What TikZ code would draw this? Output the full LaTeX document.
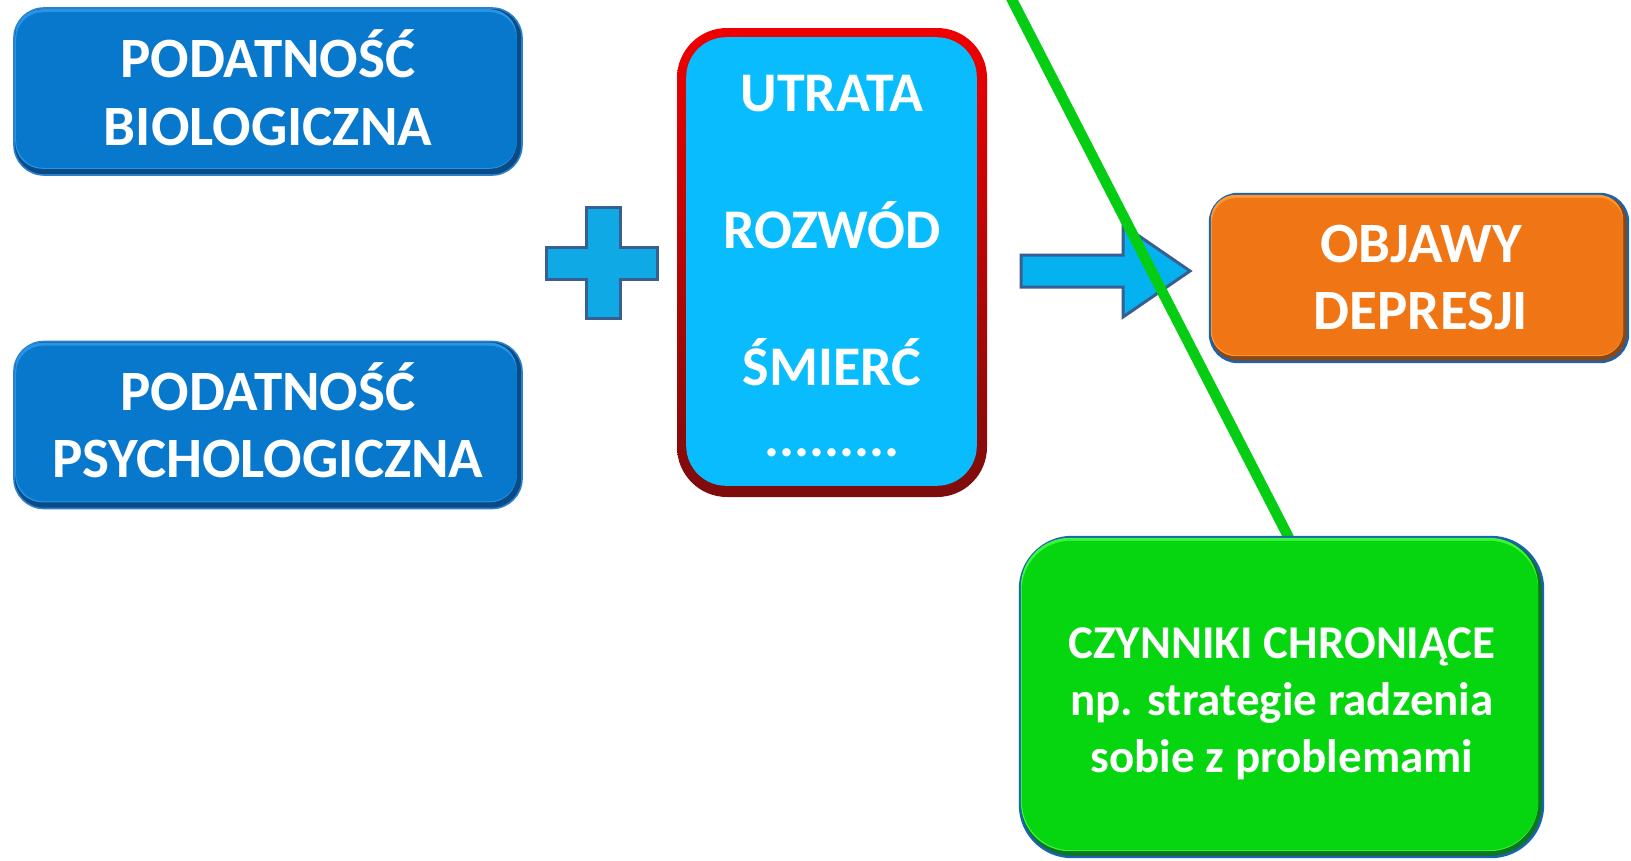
\documentclass[tikz,border=0pt]{standalone}
\usepackage{fontspec}
\setmainfont{Carlito}
\definecolor{bluemain}{RGB}{8,120,205}
\definecolor{bluelight}{RGB}{40,148,228}
\definecolor{blueedge}{RGB}{10,74,133}
\definecolor{blueline}{RGB}{42,128,204}
\definecolor{cyanfill}{RGB}{8,188,253}
\definecolor{redtop}{RGB}{240,0,0}
\definecolor{redbot}{RGB}{125,12,12}
\definecolor{plusfill}{RGB}{15,170,230}
\definecolor{shapeline}{RGB}{55,95,145}
\definecolor{arrowfill}{RGB}{5,178,240}
\definecolor{orangemain}{RGB}{240,117,20}
\definecolor{orangelight}{RGB}{255,150,50}
\definecolor{orangeedge}{RGB}{135,72,26}
\definecolor{greenmain}{RGB}{6,214,15}
\definecolor{greenlight}{RGB}{60,245,60}
\definecolor{greenedge}{RGB}{12,118,32}
\definecolor{linegreen}{RGB}{5,205,20}
\definecolor{boxblueline}{RGB}{25,100,175}
\newcommand{\bevelin}[4]{%
  \fill[#3, rounded corners=#2] ([shift={(2pt,-2pt)}]#1.north west) rectangle ([shift={(-6pt,7pt)}]#1.south east);
  \fill[#4, rounded corners=#2] ([shift={(3pt,-5pt)}]#1.north west) rectangle ([shift={(-6pt,8pt)}]#1.south east);
}
\begin{document}
\begin{tikzpicture}[x=1pt,y=-1pt,
  wtxt/.style={text=white, font=\bfseries\fontsize{57}{68}\selectfont, inner sep=0pt, anchor=base},
  rtxt/.style={wtxt, font=\bfseries\fontsize{56}{68}\selectfont},
  gtxt/.style={wtxt, font=\bfseries\fontsize{47}{57}\selectfont},
  boxbase/.style={rectangle, inner sep=0pt, line width=1.6pt},
  bluebox/.style={boxbase, rounded corners=30pt, fill=blueedge, draw=blueline, minimum width=508pt, minimum height=167pt},
  orangebox/.style={boxbase, rounded corners=28pt, fill=orangeedge, draw=boxblueline, line width=2.4pt, minimum width=418pt, minimum height=168pt},
  greenbox/.style={boxbase, rounded corners=52pt, fill=greenedge, draw=boxblueline, line width=2.4pt, minimum width=523pt, minimum height=320pt},
  redbox/.style={boxbase, rounded corners=50pt, top color=redtop, bottom color=redbot, draw=none, minimum width=310pt, minimum height=469pt},
  blockshape/.style={draw=shapeline, line width=3pt, line join=miter}
]
\useasboundingbox (0,0) rectangle (1631,860);
\fill[white] (0,0) rectangle (1631,860);
\clip (0,0) rectangle (1631,860);

% blue boxes
\node[bluebox] (bio) at (268,91.5) {};
\bevelin{bio}{27pt}{bluelight}{bluemain}
\node[wtxt] (bio1) at (268,77) {PODATNOŚĆ};
\node[wtxt] (bio2) at (268,145) {BIOLOGICZNA};

\node[bluebox] (psy) at (268,425) {};
\bevelin{psy}{27pt}{bluelight}{bluemain}
\node[wtxt] (psy1) at (268,410) {PODATNOŚĆ};
\node[wtxt] (psy2) at (268,477) {PSYCHOLOGICZNA};

% plus sign
\draw[blockshape, fill=plusfill] (586,207) -- (620,207) -- (620,247) -- (657,247) -- (657,279)
  -- (620,279) -- (620,318) -- (586,318) -- (586,279) -- (546,279) -- (546,247) -- (586,247) -- cycle;

% red box with events
\node[redbox] (events) at (832,262.5) {};
\fill[cyanfill, rounded corners=40pt] ([shift={(10pt,-10pt)}]events.north west) rectangle ([shift={(-11pt,12pt)}]events.south east);
\node[rtxt] (ev1) at (832,111) {UTRATA};
\node[rtxt] (ev2) at (832,248) {ROZWÓD};
\node[rtxt] (ev3) at (832,385) {ŚMIERĆ};
\node[rtxt] (ev4) at (832,456) {.........};

% block arrow
\draw[blockshape, fill=arrowfill] (1021,255) -- (1123,255) -- (1123,225) -- (1190,271)
  -- (1123,317) -- (1123,287) -- (1021,287) -- cycle;

% orange box
\node[orangebox] (objawy) at (1419,278) {};
\bevelin{objawy}{25pt}{orangelight}{orangemain}
\node[wtxt] (obj1) at (1421,262) {OBJAWY};
\node[wtxt] (obj2) at (1421,329) {DEPRESJI};

% green line
\coordinate (gtop) at (1007,-10);
\coordinate (gbot) at (1289,538);
\draw[linegreen, line width=10.5pt] (gtop) -- (gbot);

% green box
\node[greenbox] (chron) at (1281.5,697) {};
\bevelin{chron}{49pt}{greenlight}{greenmain}
\node[gtxt] (ch1) at (1282,658) {CZYNNIKI CHRONIĄCE};
\node[gtxt] (ch2) at (1282,715) {np. strategie radzenia};
\node[gtxt] (ch3) at (1282,772) {sobie z problemami};
\end{tikzpicture}
\end{document}
